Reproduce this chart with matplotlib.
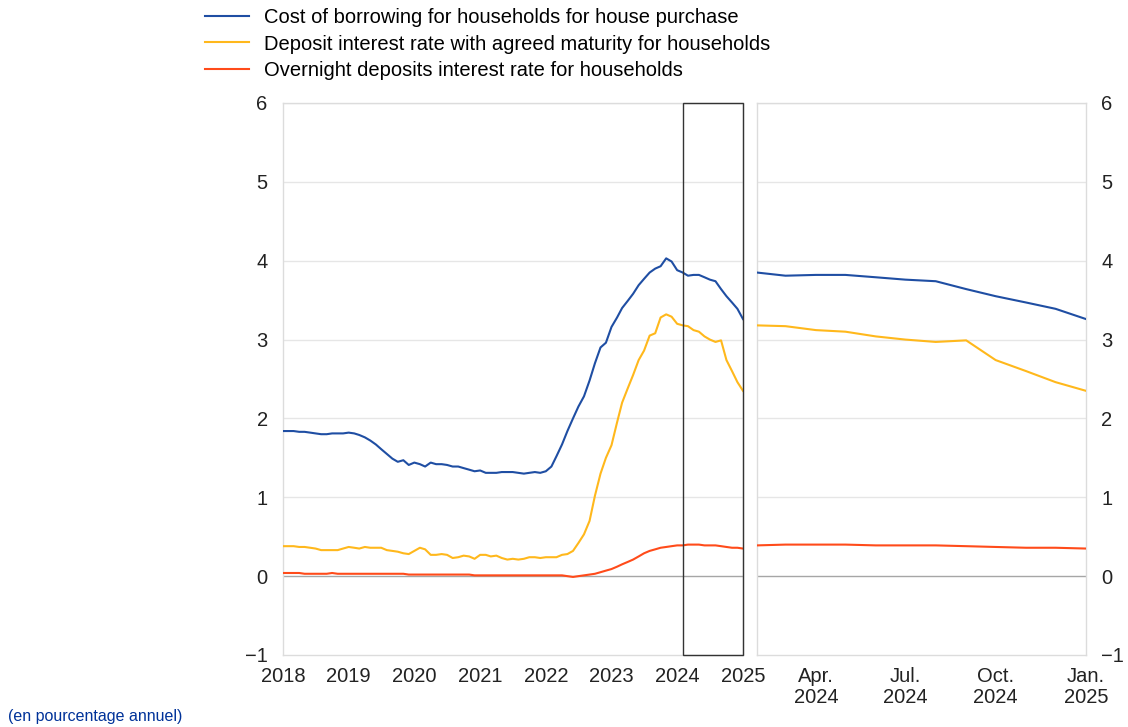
import numpy as np
import pandas as pd
import matplotlib
matplotlib.use('Agg')
import matplotlib.pyplot as plt
from matplotlib.patches import Rectangle

plt.rcParams['font.family'] = ['Liberation Sans', 'DejaVu Sans']

# monthly data, Jan 2018 - Jan 2025
dates = pd.date_range('2018-01-01', '2025-01-01', freq='MS')

borrowing = [
    1.84, 1.84, 1.84, 1.83, 1.83, 1.82, 1.81, 1.80, 1.80, 1.81, 1.81, 1.81,
    1.82, 1.81, 1.79, 1.76, 1.72, 1.67, 1.61, 1.55, 1.49, 1.45, 1.47, 1.41,
    1.44, 1.42, 1.39, 1.44, 1.42, 1.42, 1.41, 1.39, 1.39, 1.37, 1.35, 1.33,
    1.34, 1.31, 1.31, 1.31, 1.32, 1.32, 1.32, 1.31, 1.30, 1.31, 1.32, 1.31,
    1.33, 1.39, 1.52, 1.67, 1.84, 2.00, 2.15, 2.28, 2.48, 2.70, 2.90, 2.96,
    3.16, 3.28, 3.40, 3.49, 3.58, 3.69, 3.77, 3.85, 3.90, 3.93, 4.03, 3.99,
    3.88, 3.85, 3.81, 3.82, 3.82, 3.79, 3.76, 3.74, 3.64, 3.55, 3.47, 3.39,
    3.26,
]

deposit_maturity = [
    0.38, 0.38, 0.38, 0.37, 0.37, 0.36, 0.35, 0.33, 0.33, 0.33, 0.33, 0.35,
    0.37, 0.36, 0.35, 0.37, 0.36, 0.36, 0.36, 0.33, 0.32, 0.31, 0.29, 0.28,
    0.32, 0.36, 0.34, 0.27, 0.27, 0.28, 0.27, 0.23, 0.24, 0.26, 0.25, 0.22,
    0.27, 0.27, 0.25, 0.26, 0.23, 0.21, 0.22, 0.21, 0.22, 0.24, 0.24, 0.23,
    0.24, 0.24, 0.24, 0.27, 0.28, 0.32, 0.42, 0.53, 0.70, 1.02, 1.30, 1.50,
    1.66, 1.95, 2.20, 2.38, 2.55, 2.74, 2.86, 3.05, 3.08, 3.28, 3.32, 3.29,
    3.20, 3.18, 3.17, 3.12, 3.10, 3.04, 3.00, 2.97, 2.99, 2.74, 2.60, 2.46,
    2.35,
]

overnight = [
    0.04, 0.04, 0.04, 0.04, 0.03, 0.03, 0.03, 0.03, 0.03, 0.04, 0.03, 0.03,
    0.03, 0.03, 0.03, 0.03, 0.03, 0.03, 0.03, 0.03, 0.03, 0.03, 0.03, 0.02,
    0.02, 0.02, 0.02, 0.02, 0.02, 0.02, 0.02, 0.02, 0.02, 0.02, 0.02, 0.01,
    0.01, 0.01, 0.01, 0.01, 0.01, 0.01, 0.01, 0.01, 0.01, 0.01, 0.01, 0.01,
    0.01, 0.01, 0.01, 0.01, 0.00, -0.01, 0.00, 0.01, 0.02, 0.03, 0.05, 0.07,
    0.09, 0.12, 0.15, 0.18, 0.21, 0.25, 0.29, 0.32, 0.34, 0.36, 0.37, 0.38,
    0.39, 0.39, 0.40, 0.40, 0.40, 0.39, 0.39, 0.39, 0.38, 0.37, 0.36, 0.36,
    0.35,
]

labels = [
    'Cost of borrowing for households for house purchase',
    'Deposit interest rate with agreed maturity for households',
    'Overnight deposits interest rate for households',
]
colors = ['#1f4ea3', '#ffb81c', '#ff4b1a']

year_ticks = pd.date_range('2018-01-01', '2025-01-01', freq='YS')
zoom_ticks = pd.to_datetime(['2024-04-01', '2024-07-01', '2024-10-01', '2025-01-01'])
zoom_labels = ['Apr.\n2024', 'Jul.\n2024', 'Oct.\n2024', 'Jan.\n2025']

df = pd.DataFrame({'b': borrowing, 'd': deposit_maturity, 'o': overnight}, index=dates)
zoom_start = pd.Timestamp('2024-02-01')
zoom_end = pd.Timestamp('2025-01-01')
dz = df[df.index >= zoom_start]

fig = plt.figure(figsize=(11.28, 7.27), dpi=100)
W, H = 1128, 727
ax1 = fig.add_axes([283 / W, 1 - 655 / H, (743 - 283) / W, (655 - 103) / H])
ax2 = fig.add_axes([757 / W, 1 - 655 / H, (1086 - 757) / W, (655 - 103) / H])

grid_c = '#e6e6e6'
for ax, d in [(ax1, df), (ax2, dz)]:
    ax.set_ylim(-1, 6)
    ax.set_yticks(range(-1, 7))
    for yv in range(0, 7):
        if yv == 0:
            ax.axhline(0, color='#a6a6a6', lw=1.0, zorder=1)
        else:
            ax.axhline(yv, color=grid_c, lw=1.0, zorder=0)
    for col, c in zip(['b', 'd', 'o'], colors):
        ax.plot(d.index, d[col], color=c, lw=1.5, zorder=3)
    for s in ax.spines.values():
        s.set_color('#dcdcdc')
        s.set_linewidth(1.0)
    ax.tick_params(length=0, labelsize=14.5, colors='#222222')
    ax.tick_params(axis='x', pad=9)

ax1.set_xlim(dates[0], dates[-1])
ax1.set_xticks(year_ticks)
ax1.set_xticklabels([str(d.year) for d in year_ticks])
ax1.set_yticklabels(['\u22121' if v < 0 else str(v) for v in range(-1, 7)])
ax1.tick_params(axis='y', pad=11)

# highlight box for the zoomed period
x0 = matplotlib.dates.date2num(zoom_start)
x1 = matplotlib.dates.date2num(zoom_end)
ax1.add_patch(Rectangle((x0, -1), x1 - x0, 7, fill=False, edgecolor='#333333',
                        lw=1.0, zorder=5, clip_on=False))

ax2.set_xlim(zoom_start, zoom_end)
ax2.set_xticks(zoom_ticks)
ax2.set_xticklabels(zoom_labels, linespacing=1.1)
ax2.yaxis.tick_right()
ax2.set_yticklabels(['\u22121' if v < 0 else str(v) for v in range(-1, 7)])
ax2.tick_params(axis='y', pad=11)

# legend
handles = [plt.Line2D([], [], color=c, lw=1.5) for c in colors]
fig.legend(handles, labels, loc='upper left', bbox_to_anchor=(197 / W, 1 - 0 / H),
           frameon=False, fontsize=14.5, handlelength=2.2, handletextpad=0.75,
           labelspacing=0.37, borderaxespad=0)

fig.text(8 / W, 1 - 717 / H, '(en pourcentage annuel)', color='#003299',
         fontsize=11.5, va='center', ha='left')

fig.savefig('out.png', dpi=100)
